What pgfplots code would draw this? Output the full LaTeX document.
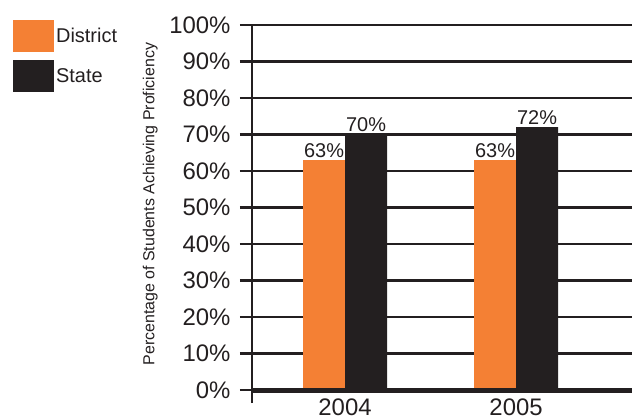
\documentclass[border=0pt]{standalone}
\usepackage{pgfplots}
\pgfplotsset{compat=1.18}
\usepackage{fontspec}
\setmainfont{Liberation Sans}
\definecolor{dist}{RGB}{244,128,52}
\definecolor{st}{RGB}{35,31,32}
\begin{document}
\begin{tikzpicture}
\path[use as bounding box] (0bp,0bp) rectangle (632bp,417bp);
\begin{axis}[
  at={(252bp,14bp)}, anchor=south west,
  scale only axis, width=380bp, height=378bp,
  xmin=-0.544, xmax=1.678, ymin=-3.56, ymax=100,
  axis lines*=left,
  x axis line style={draw=none},
  y axis line style={line width=2.5bp, color=st},
  xtick={0,1}, xticklabels={2004,2005},
  ytick={0,10,...,100},
  yticklabels={0\%,10\%,20\%,30\%,40\%,50\%,60\%,70\%,80\%,90\%,100\%},
  tick align=outside, major tick length=12bp,
  major x tick style={draw=none},
  major y tick style={line width=2.5bp, color=st},
  ymajorgrids, major grid style={line width=2.3bp, color=st},
  tick label style={font=\fontsize{24}{28}\selectfont, text=st},
  xticklabel style={anchor=base, yshift=0bp},
  yticklabel style={xshift=-6bp},
  ylabel={Percentage of Students Achieving Proficiency},
  every axis y label/.style={at={(axis description cs:-0.268,0.526)}, rotate=90, anchor=center, font=\fontsize{16}{18}\selectfont, text=st},
  ybar=0pt, bar width=42bp,
  /pgf/number format/assume math mode=true,
  nodes near coords={\pgfmathprintnumber{\pgfplotspointmeta}\%},
  every node near coord/.append style={font=\fontsize{20}{24}\selectfont, text=st, inner sep=2.5bp},
  legend style={draw=none, fill=none, at={(axis description cs:-0.629,1.013)}, anchor=north west, inner sep=0pt, row sep=8bp, font=\fontsize{20}{24}\selectfont, text=st},
  legend cell align=left,
  legend image code/.code={\fill (0bp,-16bp) rectangle (41bp,16bp);},
]
\addplot[fill=dist, draw=none] coordinates {(0,63) (1,63)};
\addplot[fill=st, draw=none] coordinates {(0,70) (1,72)};
\legend{District,State}
\draw[line width=5bp, st] ([xshift=-12bp]axis cs:-0.544,0) -- (axis cs:1.678,0);
\end{axis}
\end{tikzpicture}
\end{document}
